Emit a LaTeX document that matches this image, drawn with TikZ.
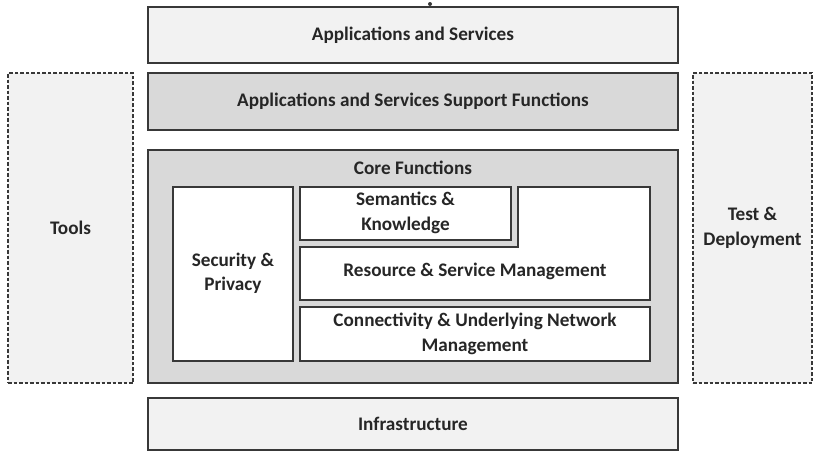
\documentclass[tikz,border=0pt]{standalone}
\usepackage{fontspec}
\setmainfont{Carlito}
\definecolor{edge}{HTML}{383838}
\definecolor{txt}{HTML}{262626}
\definecolor{lightfill}{HTML}{F2F2F2}
\definecolor{midfill}{HTML}{D9D9D9}
\tikzset{
  txtfont/.style={font=\fontsize{19.2}{24.5}\selectfont\bfseries, text=txt, align=center},
  layer/.style={draw=edge, line width=2pt, rectangle, inner sep=0pt, txtfont},
  side/.style={draw=edge, line width=2.3pt, dashed, dash pattern=on 3.5pt off 2pt, rectangle, inner sep=0pt,
    fill=lightfill, txtfont},
  inner/.style={draw=edge, line width=2pt, fill=white, rectangle, inner sep=0pt, txtfont},
  lbl/.style={txtfont, inner sep=0pt}
}
\begin{document}
\begin{tikzpicture}[x=1pt,y=-1pt]
\useasboundingbox (0,0) rectangle (817,451);
% top layers
\node[layer, fill=lightfill, minimum width=530pt, minimum height=56pt] (app) at (413,35) {Applications and Services};
\node[layer, fill=midfill, minimum width=530pt, minimum height=57pt] (sup) at (413,101.5) {Applications and Services Support Functions};
% core
\node[layer, fill=midfill, minimum width=530pt, minimum height=233pt] (core) at (413,266.5) {};
\node[lbl] (coret) at (413,168) {Core Functions};
\node[inner, minimum width=120pt, minimum height=174pt] (sec) at (233,273.5) {Security \&\\Privacy};
\node[inner, minimum width=211pt, minimum height=53pt] (sem) at (405.5,213) {Semantics \&\\Knowledge};
\draw[draw=edge, line width=2pt, fill=white]
  (300,247) -- (518,247) -- (518,187) -- (650,187) -- (650,300) -- (300,300) -- cycle;
\node[lbl] (res) at (475,271) {Resource \& Service Management};
\node[inner, minimum width=350pt, minimum height=54pt] (con) at (475,334) {Connectivity \& Underlying Network\\Management};
% bottom
\node[layer, fill=lightfill, minimum width=530pt, minimum height=52pt] (inf) at (413,424) {Infrastructure};
% sides
\node[side, minimum width=125pt, minimum height=310pt] (tools) at (70.5,228) {Tools};
\node[side, minimum width=119pt, minimum height=310pt] (test) at (752.5,228) {Test \&\\Deployment};
% small mark
\fill[edge] (430,4) circle (2pt);
\end{tikzpicture}
\end{document}
